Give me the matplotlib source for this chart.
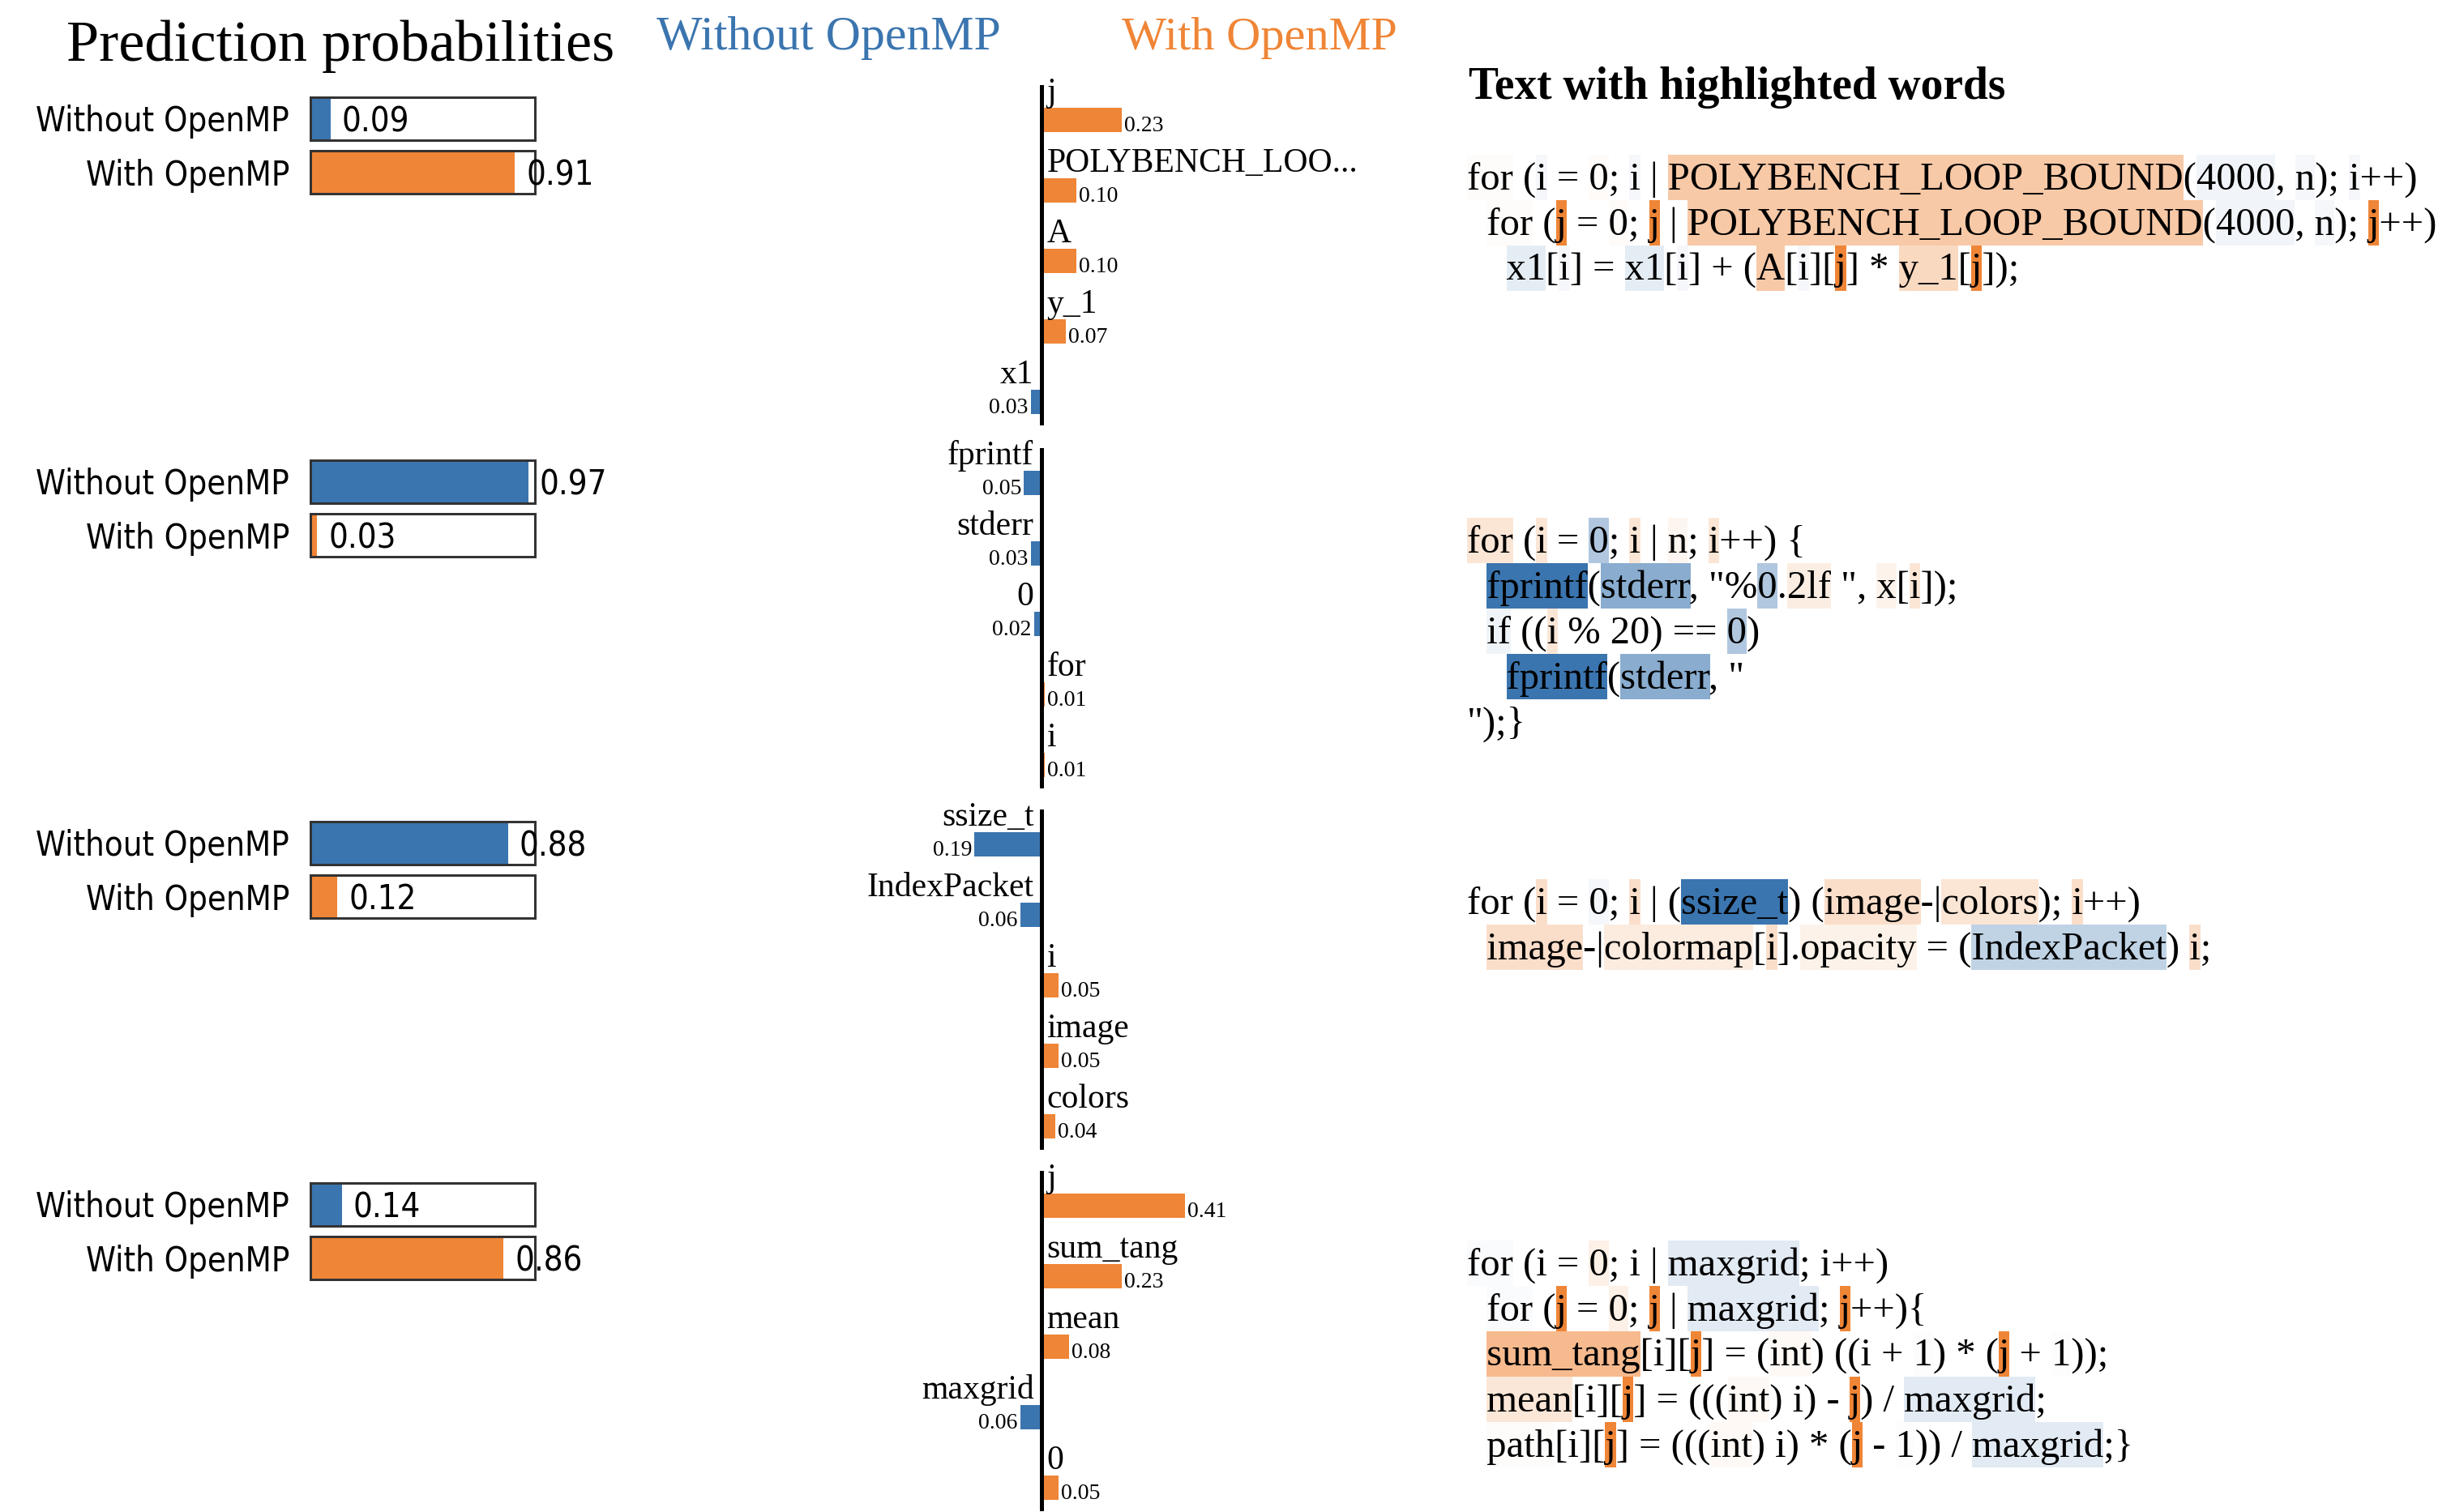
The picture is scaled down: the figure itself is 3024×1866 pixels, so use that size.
import re
import matplotlib
matplotlib.use('Agg')
import matplotlib.pyplot as plt
from matplotlib.font_manager import FontProperties, findfont
from matplotlib.patches import Rectangle
from matplotlib.colors import to_rgba

# ---------------- data ----------------
class_names = ['Without OpenMP', 'With OpenMP']

proba_1 = [0.09, 0.91]
proba_2 = [0.97, 0.03]
proba_3 = [0.88, 0.12]
proba_4 = [0.14, 0.86]

feat_names_1 = ['j', 'POLYBENCH_LOO...', 'A', 'y_1', 'x1']
feat_vals_1 = [0.23, 0.10, 0.10, 0.07, -0.03]
feat_names_2 = ['fprintf', 'stderr', '0', 'for', 'i']
feat_vals_2 = [-0.05, -0.03, -0.02, 0.01, 0.01]
feat_names_3 = ['ssize_t', 'IndexPacket', 'i', 'image', 'colors']
feat_vals_3 = [-0.19, -0.06, 0.05, 0.05, 0.04]
feat_names_4 = ['j', 'sum_tang', 'mean', 'maxgrid', '0']
feat_vals_4 = [0.41, 0.23, 0.08, -0.06, 0.05]

code_1 = ['for (i = 0; i | POLYBENCH_LOOP_BOUND(4000, n); i++)',
          '  for (j = 0; j | POLYBENCH_LOOP_BOUND(4000, n); j++)',
          '    x1[i] = x1[i] + (A[i][j] * y_1[j]);']
code_2 = ['for (i = 0; i | n; i++) {',
          '  fprintf(stderr, "%0.2lf ", x[i]);',
          '  if ((i % 20) == 0)',
          '    fprintf(stderr, "',
          '");}']
code_3 = ['for (i = 0; i | (ssize_t) (image-|colors); i++)',
          '  image-|colormap[i].opacity = (IndexPacket) i;']
code_4 = ['for (i = 0; i | maxgrid; i++)',
          '  for (j = 0; j | maxgrid; j++){',
          '  sum_tang[i][j] = (int) ((i + 1) * (j + 1));',
          '  mean[i][j] = (((int) i) - j) / maxgrid;',
          '  path[i][j] = (((int) i) * (j - 1)) / maxgrid;}']

word_w_1 = {'j': 0.23, 'POLYBENCH_LOOP_BOUND': 0.10, 'A': 0.10, 'y_1': 0.07,
            'x1': -0.03, 'i': -0.012, '4000': -0.015, 'n': -0.012,
            'for': 0.005, '0': 0.006}
word_w_2 = {'fprintf': -0.05, 'stderr': -0.03, '0': -0.02, 'for': 0.01,
            'i': 0.01, 'n': 0.004, '2lf': 0.007, 'x': 0.005, 'if': -0.004}
word_w_3 = {'ssize_t': -0.19, 'IndexPacket': -0.06, 'i': 0.05, 'image': 0.05,
            'colors': 0.04, 'colormap': 0.03, 'opacity': 0.02, '0': -0.01}
word_w_4 = {'j': 0.41, 'sum_tang': 0.23, 'mean': 0.08, 'maxgrid': -0.06,
            '0': 0.05, 'int': 0.02, 'for': -0.01, 'path': 0.01, '1': -0.004}

probas = [proba_1, proba_2, proba_3, proba_4]
feat_names = [feat_names_1, feat_names_2, feat_names_3, feat_names_4]
feat_vals = [feat_vals_1, feat_vals_2, feat_vals_3, feat_vals_4]
codes = [code_1, code_2, code_3, code_4]
word_ws = [word_w_1, word_w_2, word_w_3, word_w_4]

# ---------------- style / layout ----------------
W, H, DPI = 3024, 1866, 100
PX = 72.0 / DPI  # points per pixel
BLUE = '#3b75af'
ORANGE = '#ef8536'
SERIF = 'Liberation Serif'

sans_probe = FontProperties(family='DejaVu Sans', stretch='condensed')
HAS_COND = 'Condensed' in findfont(sans_probe)
SANS_FS = 30 if HAS_COND else 27

panel_tops = [105, 553, 999, 1445]

fig = plt.figure(figsize=(W / DPI, H / DPI), dpi=DPI)
fig.patch.set_facecolor('white')


def px_axes(x, y, w, h):
    a = fig.add_axes([x / W, 1 - (y + h) / H, w / W, h / H])
    a.axis('off')
    return a


overlay = px_axes(0, 0, W, H)
overlay.set_xlim(0, W)
overlay.set_ylim(H, 0)

overlay.text(420, 75, 'Prediction probabilities', family=SERIF, size=52,
             ha='center', va='baseline')
overlay.text(1022, 61, class_names[0], family=SERIF, size=43, color=BLUE,
             ha='center', va='baseline')
overlay.text(1554, 61, class_names[1], family=SERIF, size=42, color=ORANGE,
             ha='center', va='baseline')
overlay.text(1812, 122, 'Text with highlighted words', family=SERIF, size=40,
             weight='bold', ha='left', va='baseline')

sans_fp = FontProperties(family='DejaVu Sans', stretch='condensed', size=SANS_FS)

# ---------------- prediction probability panels ----------------
for k in range(4):
    top = panel_tops[k] + 15
    ax = px_axes(383, top, 277, 119)
    ax.set_xlim(0, 1)
    ax.set_ylim(1.4, -0.4)
    ys = [0, 1]
    ax.barh(ys, probas[k], height=0.8, color=[BLUE, ORANGE], clip_on=False)
    ax.barh(ys, [1, 1], height=0.8, fill=False, edgecolor='#333333',
            linewidth=3 * PX, clip_on=False)
    for y, name, p in zip(ys, class_names, probas[k]):
        ax.annotate(name, (0, y), xytext=(-26 * PX, -16 * PX),
                    textcoords='offset points', ha='right', va='baseline',
                    fontproperties=sans_fp, annotation_clip=False)
        ax.annotate(f'{p:.2f}', (p, y), xytext=(14 * PX, -16 * PX),
                    textcoords='offset points', ha='left', va='baseline',
                    fontproperties=sans_fp, annotation_clip=False)

# ---------------- feature weight panels ----------------
XSCALE = 432
ROW, BAR_H, FIRST, AX_LEN = 87, 30, 28, 420
for k in range(4):
    top = panel_tops[k]
    ax = px_axes(1284.5 - XSCALE, top, 2 * XSCALE, AX_LEN)
    ax.set_xlim(-1, 1)
    c0 = FIRST + BAR_H / 2
    ax.set_ylim((AX_LEN - c0) / ROW, -c0 / ROW)
    vals = feat_vals[k]
    n = len(vals)
    hh = BAR_H / ROW
    ax.barh(range(n), vals, height=hh,
            color=[ORANGE if v > 0 else BLUE for v in vals], zorder=2)
    ax.axvline(0, color='black', lw=5 * PX, zorder=3)
    for i, (name, v) in enumerate(zip(feat_names[k], vals)):
        t_y = i - hh / 2
        b_y = i + hh / 2
        if v > 0:
            ax.annotate(name, (0, t_y), xytext=(7 * PX, 8 * PX),
                        textcoords='offset points', ha='left', va='baseline',
                        family=SERIF, size=30, annotation_clip=False)
            ax.annotate(f'{abs(v):.2f}', (v, b_y), xytext=(3 * PX, 1 * PX),
                        textcoords='offset points', ha='left', va='baseline',
                        family=SERIF, size=20, annotation_clip=False)
        else:
            ax.annotate(name, (0, t_y), xytext=(-9 * PX, 8 * PX),
                        textcoords='offset points', ha='right', va='baseline',
                        family=SERIF, size=30, annotation_clip=False)
            ax.annotate(f'{abs(v):.2f}', (v, b_y), xytext=(-3 * PX, 1 * PX),
                        textcoords='offset points', ha='right', va='baseline',
                        family=SERIF, size=20, annotation_clip=False)

# ---------------- highlighted code panels ----------------
CODE_FS = 35
code_fp = FontProperties(family=SERIF, size=CODE_FS)
renderer = fig.canvas.get_renderer()


def text_w(s):
    w, h, d = renderer.get_text_width_height_descent(s, code_fp, ismath=False)
    return w


def adv(s):
    if not s:
        return 0.0
    return text_w(s + 'x') - text_w('x')


CODE_X = 1810
LINE_H = 56
BASE_OFF = 43
for k in range(4):
    first_top = panel_tops[k] + 86
    weights = word_ws[k]
    wmax = max(abs(v) for v in weights.values())
    for li, line in enumerate(codes[k]):
        box_top = first_top + li * LINE_H
        overlay.text(CODE_X, box_top + BASE_OFF, line, fontproperties=code_fp,
                     ha='left', va='baseline', zorder=3)
        for m in re.finditer(r'\w+', line):
            w = weights.get(m.group())
            if w is None:
                continue
            x1 = CODE_X + adv(line[:m.start()])
            x2 = CODE_X + adv(line[:m.end()])
            rgba = to_rgba(ORANGE if w > 0 else BLUE, abs(w) / wmax)
            overlay.add_patch(Rectangle((x1, box_top), x2 - x1, LINE_H,
                                        facecolor=rgba, edgecolor='none',
                                        zorder=1))

fig.savefig('out.png', dpi=DPI, facecolor='white')
